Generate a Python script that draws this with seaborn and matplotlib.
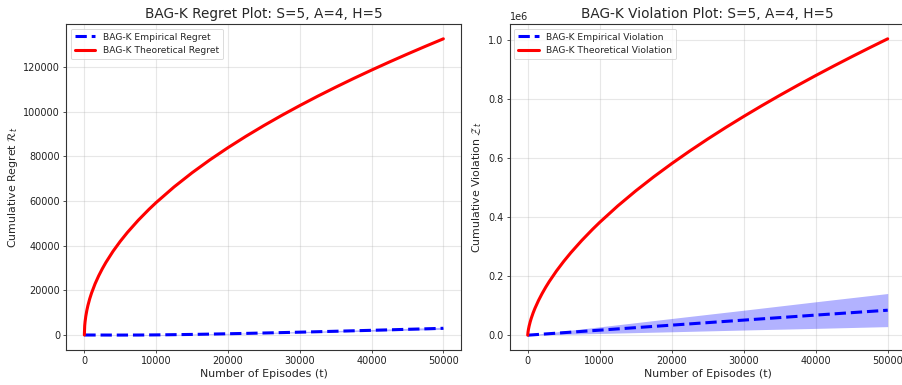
import numpy as np
import pandas as pd
import matplotlib
matplotlib.use("Agg")
import matplotlib.pyplot as plt
import seaborn as sns

# ---- data ----
episodes = [0, 50, 100, 200, 350, 500, 750, 1000, 1500, 2000, 2500, 3000,
            4000, 5000, 6000, 7500, 9000, 10000, 12500, 15000, 17500, 20000,
            22500, 25000, 27500, 30000, 32500, 35000, 37500, 40000, 42500,
            45000, 47500, 50000]

regret_theory = [0, 4190, 5930, 8390, 11090, 13260, 16240, 18750, 22970,
                 26520, 29650, 32480, 37510, 41930, 45930, 51350, 56260,
                 59300, 66300, 72630, 78450, 83860, 88950, 93760, 98340,
                 102710, 106910, 110940, 114840, 118600, 122250, 125790,
                 129240, 132600]

viol_theory = [0, 11470, 19090, 31060, 45440, 57620, 75170, 90550, 117420,
               140920, 162190, 181800, 217500, 249710, 279400, 320360,
               358130, 381860, 437280, 488270, 535870, 580650, 623220,
               663850, 702790, 740270, 776500, 811540, 845580, 878700,
               910910, 942300, 972990, 1003000]

emp_episodes = [0, 2500, 5000, 7500, 10000, 12500, 15000, 17500, 20000,
                22500, 25000, 27500, 30000, 32500, 35000, 37500, 40000,
                42500, 45000, 47500, 50000]
regret_emp = [0, -15, -30, -10, 50, 150, 260, 400, 560, 720, 900, 1080,
              1270, 1470, 1680, 1890, 2100, 2320, 2550, 2770, 3000]
regret_emp_halfwidth = [0, 25, 45, 70, 95, 120, 140, 160, 180, 200, 220,
                        245, 270, 290, 320, 345, 370, 395, 420, 445, 470]

viol_episodes = [0, 10000, 20000, 30000, 40000, 50000]
viol_emp = [0, 17000, 34000, 51000, 68000, 84500]
viol_emp_hi = [0, 28200, 56500, 84500, 113000, 141000]
viol_emp_lo = [0, 5800, 11500, 17500, 23000, 29000]

titles = ["BAG-K Regret Plot: S=5, A=4, H=5",
          "BAG-K Violation Plot: S=5, A=4, H=5"]
ylabels = [r"Cumulative Regret $\mathcal{R}_t$",
           r"Cumulative Violation $\mathcal{Z}_t$"]
xlabel = "Number of Episodes (t)"
legend_labels = [["BAG-K Empirical Regret", "BAG-K Theoretical Regret"],
                 ["BAG-K Empirical Violation", "BAG-K Theoretical Violation"]]
xticks = [0, 10000, 20000, 30000, 40000, 50000]

# ---- plotting ----
sns.set_style("white")
plt.rcParams['font.family'] = ['DejaVu Sans']

fig = plt.figure(figsize=(9.02, 3.85), dpi=100)
W, H = 902.0, 385.0
ax1 = fig.add_axes([66.4 / W, 35 / H, (461.3 - 66.4) / W, 326 / H])
ax2 = fig.add_axes([509.7 / W, 35 / H, (905.7 - 509.7) / W, 326 / H])

regret_lo = [m - h for m, h in zip(regret_emp, regret_emp_halfwidth)]
regret_hi = [m + h for m, h in zip(regret_emp, regret_emp_halfwidth)]

series = [
    (ax1, emp_episodes, regret_emp, regret_lo, regret_hi, regret_theory, 0),
    (ax2, viol_episodes, viol_emp, viol_emp_lo, viol_emp_hi, viol_theory, 1),
]

for ax, et, emp, lo, hi, theo, i in series:
    df_emp = pd.DataFrame({"t": et, "v": emp})
    df_theo = pd.DataFrame({"t": episodes, "v": theo})
    sns.lineplot(data=df_emp, x="t", y="v", ax=ax, color="blue",
                 linestyle="--", linewidth=2.2, label=legend_labels[i][0])
    ax.fill_between(et, lo, hi, color="blue", alpha=0.3, linewidth=0)
    sns.lineplot(data=df_theo, x="t", y="v", ax=ax, color="red",
                 linewidth=2.2, label=legend_labels[i][1])
    ax.set_title(titles[i], fontsize=9.8, pad=4)
    ax.set_xlabel(xlabel, fontsize=7.9, labelpad=2)
    ax.set_ylabel(ylabels[i], fontsize=7.9, labelpad=2 if i == 0 else 3)
    ax.grid(True, color="#b0b0b0", alpha=0.3, linewidth=0.8)
    ax.tick_params(axis="both", labelsize=7.0, length=2.5, width=0.6,
                   colors="#333333", labelcolor="#222222", direction="out",
                   left=True, bottom=True, pad=2)
    for sp in ax.spines.values():
        sp.set_color("#333333")
        sp.set_linewidth(0.8)
    ax.set_xticks(xticks)
    leg = ax.legend(loc="upper left", fontsize=6.6, frameon=True,
                    handlelength=2.2, borderpad=0.45, labelspacing=0.5)
    leg.get_frame().set_edgecolor("#cccccc")
    leg.get_frame().set_linewidth(0.6)

ax2.yaxis.get_offset_text().set_fontsize(7.0)

fig.savefig("out.png", dpi=100)
